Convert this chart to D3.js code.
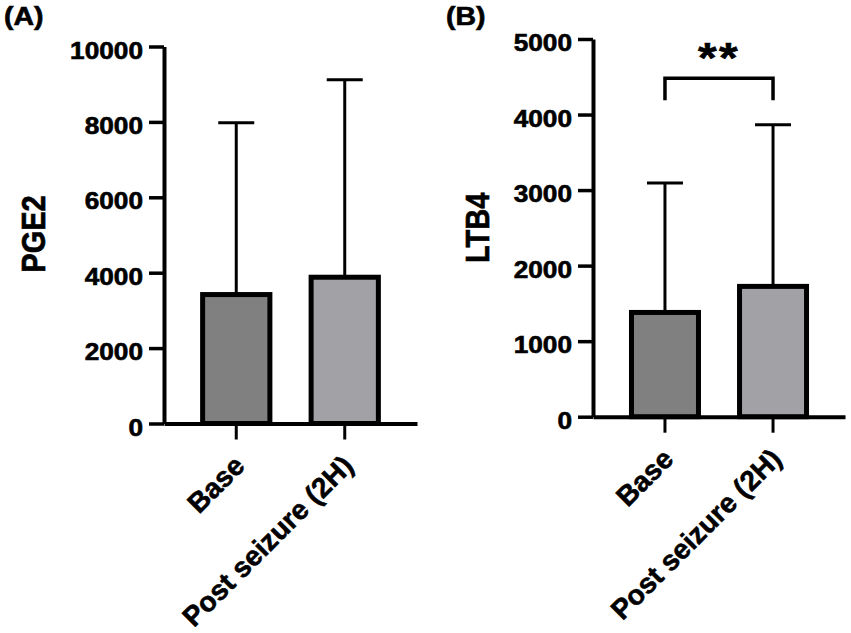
<!DOCTYPE html>
<html>
<head>
<meta charset="utf-8">
<script src="https://cdn.jsdelivr.net/npm/d3@7"></script>
<style>
  body { margin: 0; background: #fff; }
  svg { display: block; font-family: "Liberation Sans", Arial, sans-serif; font-weight: bold; }
  svg text { stroke: #000; stroke-width: 0.6px; }
</style>
</head>
<body>
<div id="chart"></div>
<script>
var groups    = ["Base", "Post seizure (2H)"]
var barFills  = ["#808080", "#a2a2a6"]

var pge2Mean  = [3420, 3880]
var pge2SD    = [4560, 5240]
var pge2Ticks = [0, 2000, 4000, 6000, 8000, 10000]

var ltb4Mean  = [1380, 1725]
var ltb4SD    = [1715, 2140]
var ltb4Ticks = [0, 1000, 2000, 3000, 4000, 5000]

var ltb4Sig   = "**"

// the source figure is a little wider than tall, so glyphs get stretched sideways
var stretch = 1.14

var svg = d3.select("#chart").append("svg")
  .attr("width", 851)
  .attr("height", 633)

function drawPanel(o) { //{{{
  var g = svg.append("g")

  var x = d3.scaleBand()
    .domain(groups)
    .range([o.left, o.right])
    .paddingInner(0.38)
    .paddingOuter(0.356)

  var y = d3.scaleLinear()
    .domain([0, d3.max(o.ticks)])
    .range([o.bottom, o.top])

  var data = groups.map((gr, i) => ({ name: gr, mean: o.mean[i], sd: o.sd[i], fill: barFills[i] }))
  var cx = d => x(d.name) + x.bandwidth() / 2

  // error bars first, bar outline sits on top
  var eb = g.append("g").selectAll("g").data(data).join("g")
  eb.append("line")
    .attr("x1", cx).attr("x2", cx)
    .attr("y1", d => y(d.mean))
    .attr("y2", d => y(d.mean + d.sd))
    .attr("stroke", "#000").attr("stroke-width", 3)
  eb.append("line")
    .attr("x1", d => cx(d) - 18)
    .attr("x2", d => cx(d) + 18)
    .attr("y1", d => y(d.mean + d.sd))
    .attr("y2", d => y(d.mean + d.sd))
    .attr("stroke", "#000").attr("stroke-width", 3)

  g.append("g").selectAll("rect").data(data).join("rect")
    .attr("x", d => x(d.name))
    .attr("width", x.bandwidth())
    .attr("y", d => y(d.mean))
    .attr("height", d => y(0) - y(d.mean))
    .attr("fill", d => d.fill)
    .attr("stroke", "#000")
    .attr("stroke-width", 5)

  var ya = g.append("g")
    .attr("transform", "translate(" + o.left + ",0)")
    .call(d3.axisLeft(y).tickValues(o.ticks).tickFormat(d3.format("d")).tickSize(15).tickPadding(6).tickSizeOuter(0))
  ya.select(".domain").attr("stroke-width", 4)
  ya.selectAll(".tick line").attr("stroke-width", 3.5)
  ya.selectAll(".tick text")
    .attr("x", 0)
    .attr("dy", "0.5em")
    .attr("transform", "translate(-21,0) scale(" + stretch + ",1)")
    .style("font-size", "23px").style("font-family", "inherit").style("font-weight", "bold")
    .attr("fill", "#000")

  var xa = g.append("g")
    .attr("transform", "translate(0," + o.bottom + ")")
    .call(d3.axisBottom(x).tickSize(16).tickSizeOuter(0).tickFormat(""))
  xa.select(".domain").attr("stroke-width", 4)
  xa.selectAll(".tick line").attr("stroke-width", 3)

  g.append("g").selectAll("text").data(groups).join("text")
    .attr("transform", d => "translate(" + (x(d) + x.bandwidth() / 2 + 10) + "," + (o.bottom + 44) + ") rotate(-45)")
    .attr("text-anchor", "end")
    .style("font-size", "28px")
    .text(d => d)

  g.append("text")
    .attr("transform", "translate(" + o.titleX + "," + ((o.top + o.bottom) / 2 + o.titleDy) + ") rotate(-90) scale(1," + stretch + ")")
    .attr("text-anchor", "middle")
    .style("font-size", "29px")
    .text(o.title)

  g.append("text")
    .attr("transform", "translate(" + o.tagX + ",25) scale(" + stretch + ",1)")
    .style("font-size", "25px")
    .text(o.tag)

  if (o.sig) {
    var x1 = cx(data[0]),
        x2 = cx(data[1]),
        yb = y(o.sigAt), leg = 22
    g.append("path")
      .attr("d", "M" + x1 + "," + (yb + leg) + "V" + yb + "H" + x2 + "V" + (yb + leg))
      .attr("fill", "none").attr("stroke", "#000").attr("stroke-width", 3.5)
    g.append("text")
      .attr("transform", "translate(" + ((x1 + x2) / 2) + "," + (yb - 6) + ") scale(" + stretch + ",1)")
      .attr("text-anchor", "middle")
      .style("font-size", "42px")
      .style("letter-spacing", "2px")
      .text(o.sig)
  }
} //}}}

drawPanel({ left: 164, right: 417, top: 46.5, bottom: 423.5, ticks: pge2Ticks,
            mean: pge2Mean, sd: pge2SD, title: "PGE2", titleX: 45, titleDy: -1, tag: "(A)", tagX: 4 })

drawPanel({ left: 593, right: 845, top: 39, bottom: 416.7, ticks: ltb4Ticks,
            mean: ltb4Mean, sd: ltb4SD, title: "LTB4", titleX: 489, titleDy: 0, tag: "(B)", tagX: 446,
            sig: ltb4Sig, sigAt: 4480 })
</script>
</body>
</html>
